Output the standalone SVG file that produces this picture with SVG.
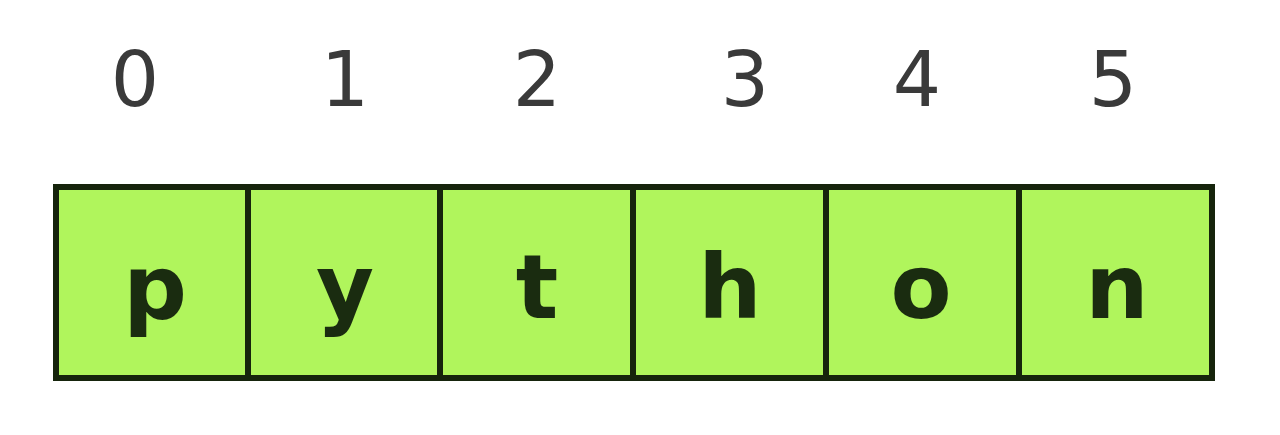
<svg xmlns="http://www.w3.org/2000/svg" width="1280" height="435" viewBox="0 0 1280 435">
<style>
.cell{fill:#b0f55c;stroke:#16240c;stroke-width:6}
.idx{font-family:"DejaVu Sans",sans-serif;font-size:76px;fill:#3a3a3a;text-anchor:middle}
.ch{font-family:"DejaVu Sans",sans-serif;font-weight:bold;font-size:89px;fill:#1a2c10;text-anchor:middle}
</style>
<rect width="1280" height="435" fill="#fff"/>
<g id="node-0"><rect class="cell" x="56" y="187" width="192" height="191"/><text class="idx" x="135" y="106">0</text><text class="ch" x="155" y="318">p</text></g>
<g id="node-1"><rect class="cell" x="248" y="187" width="192" height="191"/><text class="idx" x="345" y="106">1</text><text class="ch" x="345" y="318">y</text></g>
<g id="node-2"><rect class="cell" x="440" y="187" width="193" height="191"/><text class="idx" x="537" y="106">2</text><text class="ch" x="537" y="318">t</text></g>
<g id="node-3"><rect class="cell" x="633" y="187" width="193" height="191"/><text class="idx" x="745" y="106">3</text><text class="ch" x="730" y="318">h</text></g>
<g id="node-4"><rect class="cell" x="826" y="187" width="193" height="191"/><text class="idx" x="917" y="106">4</text><text class="ch" x="921" y="318">o</text></g>
<g id="node-5"><rect class="cell" x="1019" y="187" width="193" height="191"/><text class="idx" x="1113" y="106">5</text><text class="ch" x="1117" y="318">n</text></g>
<g id="connectors"></g>
</svg>
